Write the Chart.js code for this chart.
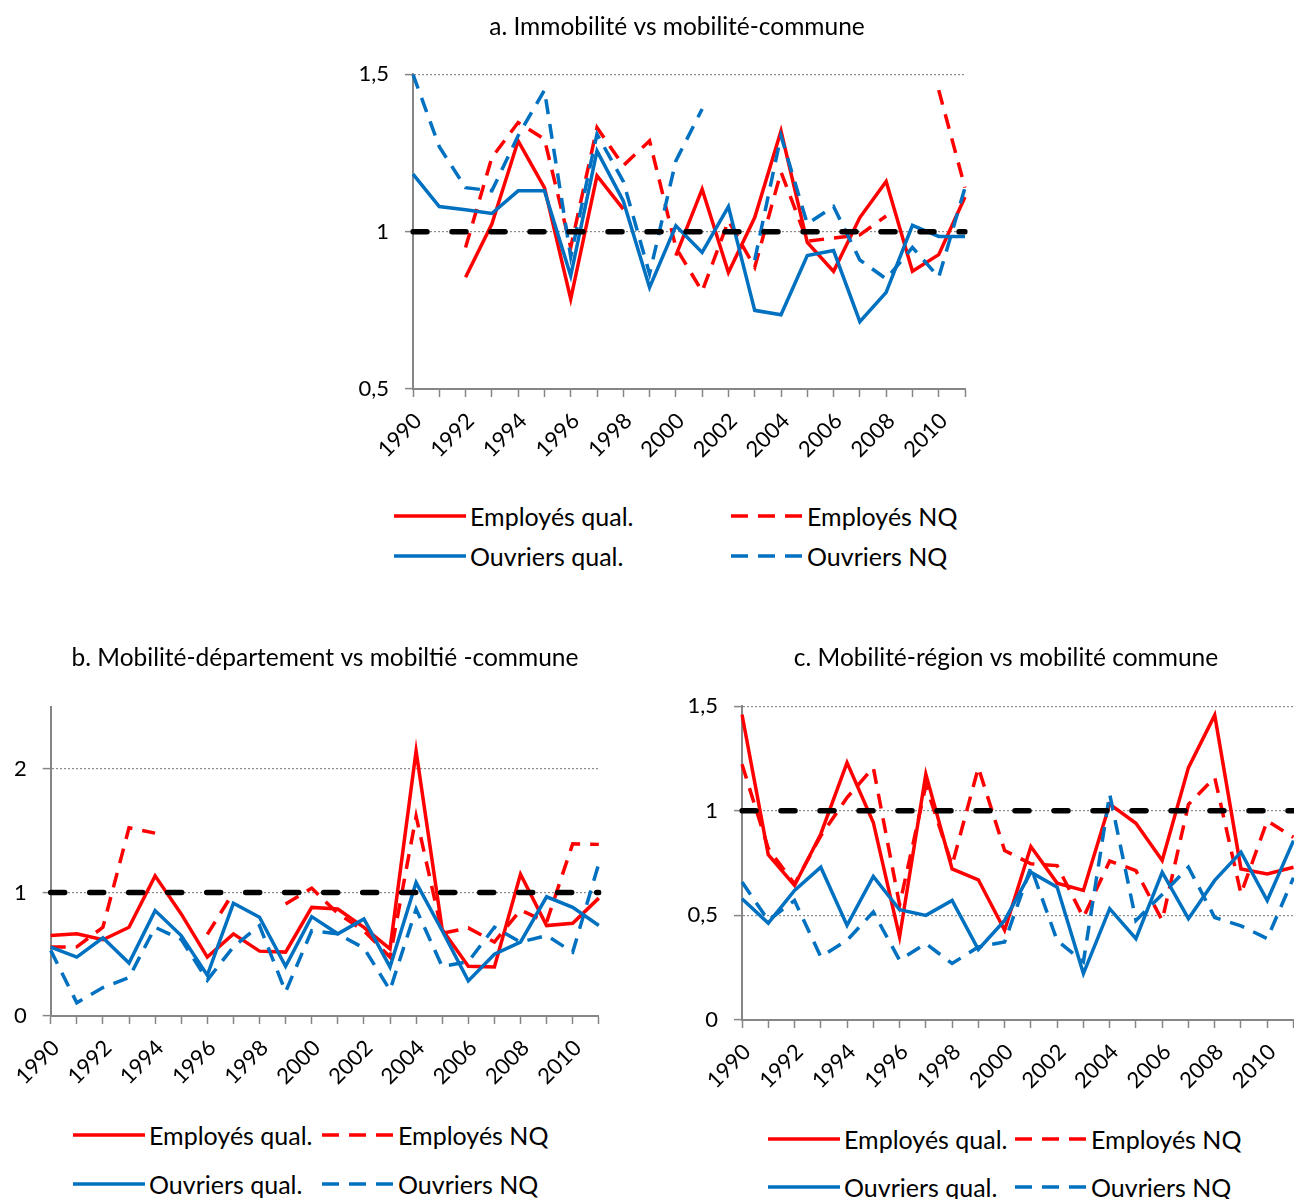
<!DOCTYPE html>
<html lang="fr">
<head>
<meta charset="utf-8">
<title>Mobilité</title>
<script src="https://cdn.jsdelivr.net/npm/chart.js@4.4.0/dist/chart.umd.min.js"></script>
<style>
  html, body { margin: 0; padding: 0; background: #fff; overflow: hidden; width: 1294px; height: 1199px; }
  canvas { position: absolute; }
  .legend-item { position: absolute; display: flex; align-items: center; font-family: Lato, "Liberation Sans", sans-serif; font-size: 25px; color: #000; white-space: nowrap; transform: translateY(-50%); }
  .legend-item svg { margin-right: 4px; display: block; }
</style>
</head>
<body>
<canvas id="chartA" width="674" height="480" style="left:340px;top:0"></canvas>
<canvas id="chartB" width="650" height="486" style="left:0;top:620px"></canvas>
<canvas id="chartC" width="672" height="490" style="left:670px;top:620px"></canvas>
<div id="legends"></div>
<script>
// years on the category axis, every other one is labelled
const yearLabels = ['1990','1991','1992','1993','1994','1995','1996','1997','1998','1999','2000',
                    '2001','2002','2003','2004','2005','2006','2007','2008','2009','2010','2011'];
const seriesNames = ['Employés qual.', 'Employés NQ', 'Ouvriers qual.', 'Ouvriers NQ'];

// a. Immobilité vs mobilité-commune
const empQualA = [null, null, 0.855, 1.024, 1.289, 1.14, 0.786, 1.178, 1.072, null, 0.924,
                  1.135, 0.87, 1.045, 1.32, 0.966, 0.874, 1.045, 1.16, 0.874, 0.927, 1.11];
const empNqA   = [null, null, 0.95, 1.236, 1.347, 1.294, 0.95, 1.331, 1.21, 1.289, 0.95,
                  0.81, 1.035, 0.887, 1.19, 0.97, 0.98, 0.99, 1.05, null, 1.45, 1.14];
const ouvQualA = [1.183, 1.08, 1.07, 1.058, 1.13, 1.13, 0.86, 1.257, 1.098, 0.823, 1.019,
                  0.934, 1.08, 0.75, 0.736, 0.924, 0.94, 0.714, 0.807, 1.02, 0.985, 0.985];
const ouvNqA   = [1.5, 1.27, 1.14, 1.13, 1.305, 1.45, 0.92, 1.31, 1.16, 0.866, 1.225,
                  1.39, null, 0.91, 1.305, 1.025, 1.08, 0.91, 0.85, 0.95, 0.855, 1.14];

// b. Mobilité-département vs mobiltié -commune
const empQualB = [0.651, 0.665, 0.617, 0.718, 1.134, 0.826, 0.477, 0.665, 0.525, 0.517, 0.879,
                  0.866, 0.718, 0.544, 2.145, 0.70, 0.402, 0.397, 1.147, 0.732, 0.751, 0.954];
const empNqB   = [0.558, 0.56, 0.718, 1.523, 1.48, null, 0.66, 1.0, null, 0.906, 1.035,
                  0.83, 0.69, 0.477, 1.617, 0.67, 0.713, 0.598, 0.858, 0.76, 1.394, 1.389];
const ouvQualB = [0.558, 0.477, 0.633, 0.429, 0.853, 0.651, 0.33, 0.912, 0.799, 0.402, 0.804,
                  0.665, 0.786, 0.397, 1.08, 0.69, 0.284, 0.5, 0.598, 0.965, 0.879, 0.732];
const ouvNqB   = [0.531, 0.107, 0.23, 0.311, 0.718, 0.62, 0.29, 0.56, 0.732, 0.196, 0.69,
                  0.665, 0.55, 0.209, 0.866, 0.4, 0.44, 0.718, 0.598, 0.651, 0.517, 1.233];

// c. Mobilité-région vs mobilité commune
const empQualC = [1.46, 0.79, 0.643, 0.889, 1.23, 0.944, 0.397, 1.175, 0.722, 0.67, 0.429,
                  0.829, 0.654, 0.619, 1.032, 0.94, 0.762, 1.206, 1.457, 0.722, 0.698, 0.73];
const empNqC   = [1.222, 0.82, 0.65, 0.88, 1.063, 1.206, 0.55, 1.12, 0.74, 1.206, 0.81,
                  0.746, 0.738, 0.49, 0.76, 0.714, 0.476, 1.03, 1.159, 0.603, 0.952, 0.873];
const ouvQualC = [0.579, 0.463, 0.619, 0.73, 0.452, 0.686, 0.527, 0.5, 0.571, 0.337, 0.476,
                  0.706, 0.635, 0.222, 0.532, 0.389, 0.706, 0.484, 0.667, 0.802, 0.571, 0.857];
const ouvNqC   = [0.659, 0.476, 0.571, 0.302, 0.381, 0.516, 0.286, 0.365, 0.27, 0.349, 0.373,
                  0.73, 0.38, 0.278, 1.08, 0.476, 0.6, 0.73, 0.49, 0.45, 0.389, 0.68];

const refValue = 1;

const FONT = 'Lato, "Liberation Sans", sans-serif';
const RED = '#ff0000';
const BLUE = '#0070c0';
const GREY = '#868686';
const DASH = [15, 10];
const styles = [
    {color: RED, dash: []},
    {color: RED, dash: DASH},
    {color: BLUE, dash: []},
    {color: BLUE, dash: DASH}
];

function buildDatasets(series) {
    const sets = series.map((values, i) => ({
        label: seriesNames[i],
        data: values,
        borderColor: styles[i].color,
        backgroundColor: styles[i].color,
        borderDash: styles[i].dash,
        borderWidth: 3.5,
        order: 4 - i
    }));
    // black dashed reference line at 1
    sets.push({
        label: 'ref',
        data: [{x: yearLabels[0], y: refValue}, {x: yearLabels[yearLabels.length - 1], y: refValue}],
        borderColor: '#000',
        borderWidth: 5.5,
        borderDash: [14, 25],
        borderCapStyle: 'round',
        order: 0
    });
    return sets;
}

function makeChart(id, cfg) {
    const yMin = cfg.min;
    return new Chart(document.getElementById(id), {
        type: 'line',
        data: { labels: yearLabels, datasets: buildDatasets(cfg.series) },
        options: {
            responsive: false,
            animation: false,
            spanGaps: false,
            elements: { point: { radius: 0 }, line: { tension: 0 } },
            layout: { padding: 0 },
            plugins: {
                legend: { display: false },
                tooltip: { enabled: false },
                title: {
                    display: true,
                    text: cfg.title,
                    color: '#000',
                    font: { family: FONT, size: 24.5, weight: 'normal' },
                    padding: { top: cfg.titleTop, bottom: cfg.titleBottom }
                }
            },
            scales: {
                x: {
                    type: 'category',
                    offset: false,
                    grid: { drawOnChartArea: false, drawTicks: true, tickLength: 8, tickColor: GREY, tickWidth: 1.5 },
                    border: { display: true, color: GREY, width: 2 },
                    ticks: {
                        autoSkip: false, minRotation: 45, maxRotation: 45, padding: 11, labelOffset: 5,
                        color: '#000', font: { family: FONT, size: 22 },
                        callback: (v, i) => (i % 2 === 0 ? yearLabels[i] : '')
                    },
                    afterFit: s => { s.height = cfg.xHeight; s.paddingLeft = 0; s.paddingRight = cfg.rightPad; }
                },
                y: {
                    min: cfg.min, max: cfg.max,
                    ticks: {
                        stepSize: cfg.step, padding: 16, color: '#000',
                        font: { family: FONT, size: 22 },
                        callback: v => String(v).replace('.', ',')
                    },
                    grid: {
                        color: c => (c.tick && c.tick.value === yMin ? 'rgba(0,0,0,0)' : '#8c8c8c'),
                        lineWidth: 1.2,
                        drawTicks: true, tickLength: 8, tickColor: GREY, tickWidth: 1.5, tickBorderDash: []
                    },
                    border: { display: true, color: GREY, width: 2, dash: [2, 2] },
                    afterBuildTicks: s => { s.ticks = s.ticks.filter(t => t.value <= cfg.labelMax); },
                    afterFit: s => { s.width = cfg.yWidth; }
                }
            }
        }
    });
}

makeChart('chartA', {
    title: 'a. Immobilité vs mobilité-commune',
    series: [empQualA, empNqA, ouvQualA, ouvNqA],
    min: 0.5, max: 1.5, step: 0.5, labelMax: 1.5,
    titleTop: 12, titleBottom: 33,
    yWidth: 73, xHeight: 91, rightPad: 49
});
makeChart('chartB', {
    title: 'b. Mobilité-département vs mobiltié -commune',
    series: [empQualB, empNqB, ouvQualB, ouvNqB],
    min: 0, max: 2.5, step: 1, labelMax: 2,
    titleTop: 23.4, titleBottom: 34.3,
    yWidth: 50.7, xHeight: 90, rightPad: 51.2
});
makeChart('chartC', {
    title: 'c. Mobilité-région vs mobilité commune',
    series: [empQualC, empNqC, ouvQualC, ouvNqC],
    min: 0, max: 1.5, step: 0.5, labelMax: 1.5,
    titleTop: 23.4, titleBottom: 33.3,
    yWidth: 72, xHeight: 90, rightPad: 48.5
});

// HTML legends, two columns by two rows under each chart
const legendSpots = [
    {rows: [516, 556], cols: [394, 731]},
    {rows: [1135, 1184], cols: [73, 322]},
    {rows: [1139, 1187], cols: [768, 1015]}
];
const holder = document.getElementById('legends');
legendSpots.forEach(spot => {
    seriesNames.forEach((name, i) => {
        const st = styles[i];
        const el = document.createElement('div');
        el.className = 'legend-item';
        el.style.left = spot.cols[i % 2] + 'px';
        el.style.top = spot.rows[Math.floor(i / 2)] + 'px';
        el.innerHTML = '<svg width="72" height="8"><line x1="0" y1="4" x2="72" y2="4" stroke="' + st.color +
            '" stroke-width="3.5" stroke-dasharray="' + (st.dash.length ? '17 10' : 'none') + '"/></svg>' +
            '<span>' + name + '</span>';
        holder.appendChild(el);
    });
});
</script>
</body>
</html>
